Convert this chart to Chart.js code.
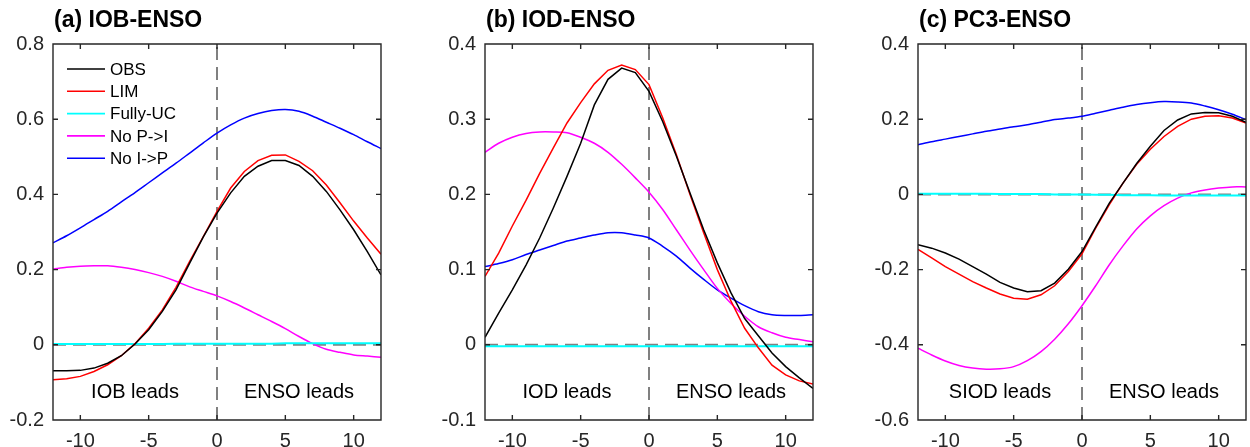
<!DOCTYPE html>
<html>
<head>
<meta charset="utf-8">
<script src="https://cdn.jsdelivr.net/npm/chart.js@4.4.0/dist/chart.umd.min.js"></script>
<style>
html, body { margin: 0; padding: 0; background: #fff; overflow: hidden; }
#wrap { position: relative; width: 1250px; height: 447px; }
#wrap canvas { position: absolute; top: 0; }
</style>
</head>
<body>
<div id="wrap">
  <canvas id="chart-a" width="385" height="447" style="left:0px"></canvas>
  <canvas id="chart-b" width="385" height="447" style="left:432px"></canvas>
  <canvas id="chart-c" width="385" height="447" style="left:865px"></canvas>
</div>
<script>
// lag in months (negative: Indian Ocean index leads)
var lags = [-12,-11,-10,-9,-8,-7,-6,-5,-4,-3,-2,-1,0,1,2,3,4,5,6,7,8,9,10,11,12];
var xTicks = [-10, -5, 0, 5, 10];
var seriesNames = ['OBS', 'LIM', 'Fully-UC', 'No P->I', 'No I->P'];
var seriesColors = ['#000000', '#ff0000', '#00ffff', '#ff00ff', '#0000ff'];
var seriesTension = [0, 0, 0, 0.3, 0.3];

// (a) IOB-ENSO
var obsA   = [-0.069,-0.069,-0.068,-0.062,-0.049,-0.029,0.002,0.04,0.089,0.146,0.217,0.287,0.35,0.404,0.448,0.475,0.49,0.49,0.477,0.448,0.408,0.359,0.306,0.248,0.186];
var limA   = [-0.093,-0.09,-0.084,-0.071,-0.053,-0.029,0.003,0.044,0.093,0.153,0.222,0.288,0.355,0.417,0.461,0.49,0.504,0.505,0.488,0.463,0.425,0.378,0.329,0.284,0.241];
var fullyA = [0.002,0.002,0.002,0.002,0.002,0.002,0.002,0.002,0.002,0.003,0.003,0.003,0.003,0.003,0.003,0.003,0.003,0.004,0.004,0.004,0.004,0.004,0.004,0.004,0.004];
var noPIA  = [0.201,0.206,0.209,0.21,0.21,0.206,0.2,0.192,0.182,0.169,0.154,0.142,0.13,0.115,0.098,0.08,0.062,0.043,0.022,0.003,-0.012,-0.02,-0.027,-0.03,-0.033];
var noIPA  = [0.271,0.29,0.311,0.333,0.355,0.38,0.405,0.431,0.457,0.483,0.51,0.537,0.563,0.585,0.603,0.615,0.623,0.626,0.621,0.608,0.592,0.576,0.559,0.54,0.522];
var yTicksA = [-0.2, 0, 0.2, 0.4, 0.6, 0.8];

// (b) IOD-ENSO
var obsB   = [0.01,0.042,0.073,0.106,0.142,0.182,0.224,0.268,0.319,0.353,0.368,0.362,0.337,0.297,0.251,0.202,0.153,0.109,0.069,0.035,0.012,-0.011,-0.029,-0.044,-0.058];
var limB   = [0.091,0.122,0.158,0.192,0.228,0.262,0.295,0.322,0.347,0.365,0.372,0.366,0.346,0.302,0.253,0.2,0.149,0.1,0.058,0.022,-0.004,-0.027,-0.04,-0.048,-0.052];
var fullyB = [-0.002,-0.002,-0.002,-0.002,-0.002,-0.002,-0.002,-0.002,-0.002,-0.002,-0.002,-0.002,-0.002,-0.002,-0.002,-0.002,-0.002,-0.002,-0.002,-0.002,-0.002,-0.002,-0.002,-0.002,-0.002];
var noPIB  = [0.256,0.268,0.276,0.281,0.283,0.283,0.282,0.276,0.268,0.256,0.24,0.222,0.203,0.18,0.153,0.126,0.1,0.075,0.055,0.038,0.024,0.016,0.01,0.007,0.004];
var noIPB  = [0.104,0.108,0.113,0.12,0.126,0.132,0.138,0.142,0.146,0.149,0.149,0.146,0.142,0.131,0.118,0.102,0.087,0.073,0.062,0.052,0.044,0.04,0.039,0.039,0.04];
var yTicksB = [-0.1, 0, 0.1, 0.2, 0.3, 0.4];

// (c) PC3-ENSO
var obsC   = [-0.134,-0.143,-0.156,-0.172,-0.192,-0.212,-0.234,-0.249,-0.259,-0.256,-0.236,-0.199,-0.152,-0.087,-0.023,0.03,0.082,0.128,0.17,0.198,0.214,0.218,0.217,0.208,0.192];
var limC   = [-0.146,-0.169,-0.192,-0.212,-0.232,-0.249,-0.265,-0.276,-0.279,-0.267,-0.243,-0.205,-0.158,-0.09,-0.027,0.03,0.08,0.12,0.154,0.181,0.2,0.208,0.209,0.203,0.19];
var fullyC = [0.002,0.002,0.002,0.002,0.002,0.002,0.001,0.001,0.001,0.001,0,0,0,-0.001,-0.001,-0.002,-0.002,-0.002,-0.003,-0.003,-0.003,-0.003,-0.003,-0.003,-0.003];
var noPIC  = [-0.409,-0.427,-0.443,-0.455,-0.462,-0.465,-0.464,-0.458,-0.442,-0.418,-0.385,-0.344,-0.296,-0.243,-0.187,-0.137,-0.092,-0.057,-0.03,-0.01,0.004,0.012,0.017,0.02,0.02];
var noIPC  = [0.132,0.14,0.147,0.154,0.161,0.168,0.174,0.18,0.185,0.192,0.199,0.203,0.208,0.216,0.224,0.232,0.239,0.244,0.247,0.246,0.243,0.235,0.225,0.213,0.199];
var yTicksC = [-0.6, -0.4, -0.2, 0, 0.2, 0.4];

var leadX = [-6, 6];

Chart.defaults.font.family = '"Liberation Sans", Arial, Helvetica, sans-serif';
Chart.defaults.color = '#262626';

var panels = [
  { id: 'chart-a', title: '(a) IOB-ENSO', leads: ['IOB leads', 'ENSO leads'], yTicks: yTicksA,
    series: [obsA, limA, fullyA, noPIA, noIPA], legend: true },
  { id: 'chart-b', title: '(b) IOD-ENSO', leads: ['IOD leads', 'ENSO leads'], yTicks: yTicksB,
    series: [obsB, limB, fullyB, noPIB, noIPB], legend: false },
  { id: 'chart-c', title: '(c) PC3-ENSO', leads: ['SIOD leads', 'ENSO leads'], yTicks: yTicksC,
    series: [obsC, limC, fullyC, noPIC, noIPC], legend: false }
];

function toPoints(vals) {
  return lags.map(function(l, i) { return { x: l, y: vals[i] }; });
}

// matlab style box with inward ticks, drawn over the curves
var boxPlugin = {
  id: 'box',
  afterDatasetsDraw: function(chart) {
    var ctx = chart.ctx, a = chart.chartArea;
    var xs = chart.scales.x, ys = chart.scales.y;
    ctx.save();
    ctx.setLineDash([]);
    ctx.strokeStyle = '#262626';
    ctx.lineWidth = 1.4;
    ctx.beginPath();
    ctx.rect(a.left, a.top, a.right - a.left, a.bottom - a.top);
    xs.ticks.forEach(function(t) {
      var px = xs.getPixelForValue(t.value);
      ctx.moveTo(px, a.bottom); ctx.lineTo(px, a.bottom - 5);
      ctx.moveTo(px, a.top); ctx.lineTo(px, a.top + 5);
    });
    ys.ticks.forEach(function(t) {
      var py = ys.getPixelForValue(t.value);
      ctx.moveTo(a.left, py); ctx.lineTo(a.left + 5, py);
      ctx.moveTo(a.right, py); ctx.lineTo(a.right - 5, py);
    });
    ctx.stroke();
    ctx.restore();
  }
};

// title, lead labels, legend
function decor(p) {
  return {
    id: 'decor',
    afterDraw: function(chart) {
      var ctx = chart.ctx, a = chart.chartArea;
      var xs = chart.scales.x, ys = chart.scales.y;
      var L = Math.round(a.left);
      ctx.save();
      ctx.fillStyle = '#000';
      ctx.textAlign = 'left';
      ctx.textBaseline = 'alphabetic';
      ctx.font = 'bold 23px "Liberation Sans", Arial, sans-serif';
      ctx.fillText(p.title, L + 1, 27);

      ctx.font = '20px "Liberation Sans", Arial, sans-serif';
      ctx.textAlign = 'center';
      ctx.textBaseline = 'middle';
      var yMin = p.yTicks[0], yMax = p.yTicks[p.yTicks.length - 1];
      var ly = ys.getPixelForValue(yMin + 0.072 * (yMax - yMin));
      p.leads.forEach(function(txt, i) {
        ctx.fillText(txt, xs.getPixelForValue(leadX[i]), ly);
      });

      if (p.legend) {
        ctx.font = '17px "Liberation Sans", Arial, sans-serif';
        ctx.textAlign = 'left';
        seriesNames.forEach(function(name, i) {
          var y = 69 + i * 22.3;
          ctx.strokeStyle = seriesColors[i];
          ctx.lineWidth = 1.6;
          ctx.beginPath();
          ctx.moveTo(L + 14, y); ctx.lineTo(L + 52, y);
          ctx.stroke();
          ctx.fillStyle = '#000';
          ctx.fillText(name, L + 57, y + 1);
        });
      }
      ctx.restore();
    }
  };
}

panels.forEach(function(p) {
  var yMin = p.yTicks[0], yMax = p.yTicks[p.yTicks.length - 1];
  var ds = p.series.map(function(vals, i) {
    return {
      label: seriesNames[i],
      data: toPoints(vals),
      showLine: true,
      borderColor: seriesColors[i],
      borderWidth: i === 2 ? 2 : 1.5,
      pointRadius: 0,
      tension: seriesTension[i],
      order: 1
    };
  });
  // zero lines
  ds.push({ label: 'x0', data: [{ x: 0, y: yMin }, { x: 0, y: yMax }], showLine: true,
            borderColor: '#808080', borderWidth: 2, borderDash: [13, 7], pointRadius: 0, order: 5 });
  ds.push({ label: 'y0', data: [{ x: -12, y: 0 }, { x: 12, y: 0 }], showLine: true,
            borderColor: '#808080', borderWidth: 2, borderDash: [13, 7], pointRadius: 0, order: 5 });

  new Chart(document.getElementById(p.id), {
    type: 'scatter',
    data: { datasets: ds },
    options: {
      responsive: false,
      animation: false,
      layout: { padding: { left: 0, right: 4, top: 44, bottom: 0 } },
      plugins: { legend: { display: false }, tooltip: { enabled: false } },
      scales: {
        x: {
          type: 'linear', min: -12, max: 12,
          afterBuildTicks: function(s) { s.ticks = xTicks.map(function(v) { return { value: v }; }); },
          afterFit: function(s) { s.height = 27; },
          grid: { display: false, drawTicks: false },
          border: { display: false },
          ticks: { padding: 9, maxRotation: 0, font: { size: 20 }, callback: function(v) { return String(v); } }
        },
        y: {
          min: yMin, max: yMax,
          afterBuildTicks: function(s) { s.ticks = p.yTicks.map(function(v) { return { value: v }; }); },
          afterFit: function(s) { s.width = 53; },
          grid: { display: false, drawTicks: false },
          border: { display: false },
          ticks: { padding: 9, font: { size: 20 }, callback: function(v) { return String(v); } }
        }
      }
    },
    plugins: [boxPlugin, decor(p)]
  });
});
</script>
</body>
</html>
